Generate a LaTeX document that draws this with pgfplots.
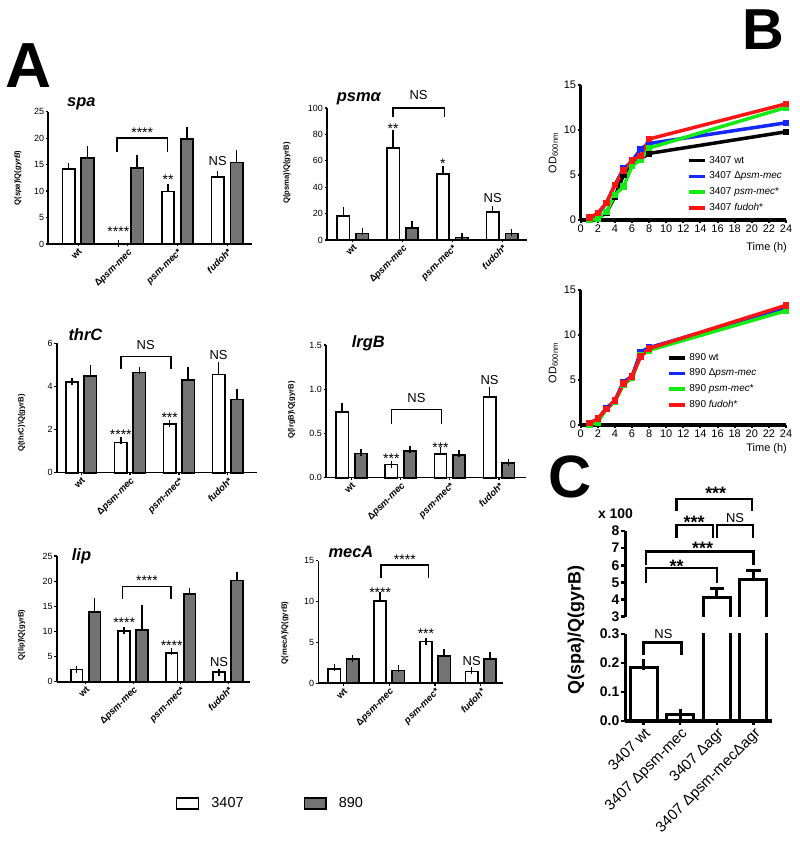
\documentclass[border=0pt]{standalone}
\usepackage{pgfplots}
\pgfplotsset{compat=1.18}
\usepackage{fontspec}
\setmainfont{Liberation Sans}
\newcommand{\fs}[1]{\fontsize{#1}{#1}\selectfont}
\definecolor{barg}{RGB}{115,115,115}
\definecolor{lgreen}{RGB}{20,235,20}
\definecolor{lblue}{RGB}{20,40,255}
\definecolor{lred}{RGB}{255,20,20}
\pgfplotsset{
  Abar/.style={
    scale only axis, anchor=south west, clip=false,
    ybar, bar width=0.25, ymin=0,
    axis x line*=bottom, axis y line*=left,
    axis line style={line width=1.6bp,-},
    tick style={black, line width=1.2bp},
    major tick length=2.5bp, tick align=outside,
    xtick={0,1,2,3},
    xticklabels={\textbf{wt}, \textbf{Δ\textit{psm-mec}}, \textbf{\textit{psm-mec}*}, \textbf{\textit{fudoh}*}},
    xticklabel style={rotate=45, anchor=north east, font=\fs{9.5}, inner sep=1bp},
    yticklabel style={font=\fs{9}, inner sep=1.5bp},
    /pgf/number format/assume math mode=true,
    scaled y ticks=false,
  },
  W/.style={fill=white, draw=black, line width=1.7bp, bar shift=-0.19,
    error bars/y dir=plus, error bars/y explicit,
    error bars/error bar style={line width=1.5bp, black},
    error bars/error mark=-,
    error bars/error mark options={line width=1.5bp, black, mark size=3.5bp}},
  G/.style={fill=barg, draw=black, line width=1.7bp, bar shift=0.19,
    error bars/y dir=plus, error bars/y explicit,
    error bars/error bar style={line width=1.5bp, black},
    error bars/error mark=-,
    error bars/error mark options={line width=1.5bp, black, mark size=3.5bp}},
  Bst/.style={scale only axis, anchor=south west, clip=false,
    width=205.3bp, height=135bp,
    xmin=0, xmax=24, ymin=0, ymax=15,
    xtick={0,2,...,24}, ytick={0,5,10,15},
    axis x line*=bottom, axis y line*=left,
    axis line style={line width=3.5bp,-},
    tick style={black, line width=2bp},
    major tick length=3bp, tick align=outside,
    tick label style={font=\fs{11}, inner sep=1.5bp},
    /pgf/number format/assume math mode=true,
    legend style={draw=none, fill=none, font=\fs{10}, row sep=3.7bp, inner sep=0bp,
      nodes={inner sep=1bp, text height=7.5bp, text depth=2.5bp}, column sep=2bp},
    legend cell align=left,
    legend image code/.code={\draw[#1, line width=3.5bp] (0bp,0bp) -- (16bp,0bp);},
  },
  Cst/.style={scale only axis, anchor=south west, width=146.7bp,
    xmin=-0.51, xmax=3.5,
    axis y line*=left, axis line style={line width=3bp,-},
    tick style={black, line width=2.5bp}, major tick length=4bp, tick align=outside,
    yticklabel style={font=\bfseries\fs{14}, inner sep=1.5bp},
    clip mode=individual, scaled y ticks=false,
    /pgf/number format/assume math mode=true},
  CB/.style={fill=white, draw=black, line width=3bp, bar shift=0,
    error bars/y dir=plus, error bars/y explicit,
    error bars/error bar style={line width=3bp, black},
    error bars/error mark=-,
    error bars/error mark options={line width=3bp, black, mark size=5.5bp}},
  CL/.style={black, line width=3bp, line join=miter, mark=none},
}
\newcommand{\SA}[3]{\node[font=\fs{14}, anchor=base, yshift=-8bp, inner sep=0pt] at (axis cs:#1,#2) {#3};}
\newcommand{\SN}[3]{\node[font=\fs{13}, anchor=base, yshift=-4.6bp, inner sep=0pt] at (axis cs:#1,#2) {#3};}
\newcommand{\BR}[4]{\draw[line width=1.5bp] (axis cs:#1,#4) -- (axis cs:#1,#3) -- (axis cs:#2,#3) -- (axis cs:#2,#4);}
\newcommand{\CA}[3]{\node[font=\bfseries\fs{18}, anchor=base, yshift=-10.4bp, inner sep=0pt] at (axis cs:#1,#2) {#3};}
\newcommand{\CN}[3]{\node[font=\fs{13}, anchor=base, yshift=-4.6bp, inner sep=0pt] at (axis cs:#1,#2) {#3};}
\newcommand{\CBR}[4]{\draw[line width=2.5bp] (axis cs:#1,#4) -- (axis cs:#1,#3) -- (axis cs:#2,#3) -- (axis cs:#2,#4);}
\begin{document}
\begin{tikzpicture}
\path[use as bounding box] (0,0) rectangle (800bp,856bp);

% ---------------- Panel A ----------------
% spa
\begin{axis}[Abar, at={(48.3bp,612bp)}, width=203.7bp, height=132.3bp,
  xmin=-0.6, xmax=3.5, ymax=25, ytick={0,5,...,25}]
\addplot[W] coordinates {(0,14.2)+-(0,0.4) (1,0.1)+-(0,0) (2,9.9)+-(0,0.8) (3,12.6)+-(0,0.6)};
\addplot[G] coordinates {(0,16.2)+-(0,1.7) (1,14.4)+-(0,1.8) (2,19.8)+-(0,1.7) (3,15.4)+-(0,1.7)};
\SA{0.81}{3}{****}
\SA{1.81}{12.8}{**}
\SN{2.81}{15.7}{NS}
\BR{0.78}{1.8}{20}{17.4}
\SA{1.29}{21.6}{****}
\end{axis}

% psm alpha
\begin{axis}[Abar, at={(327bp,616bp)}, width=200bp, height=132bp,
  xmin=-0.52, xmax=3.5, ymax=100, ytick={0,20,...,100}]
\addplot[W] coordinates {(0,18.2)+-(0,4.1) (1,69.9)+-(0,10.6) (2,49.9)+-(0,3.3) (3,21)+-(0,1.8)};
\addplot[G] coordinates {(0,5)+-(0,1.3) (1,8.9)+-(0,2.7) (2,2)+-(0,0.8) (3,5)+-(0,0.8)};
\SA{0.81}{87}{**}
\SA{1.81}{60}{*}
\SN{2.81}{31.6}{NS}
\BR{0.81}{1.84}{100}{93}
\SN{1.32}{110}{NS}
\end{axis}

% thrC
\begin{axis}[Abar, at={(56.7bp,383.3bp)}, width=200bp, height=129.4bp,
  xmin=-0.5, xmax=3.59, ymax=6, ytick={0,2,4,6}]
\addplot[W] coordinates {(0,4.2)+-(0,0.02) (1,1.4)+-(0,0.08) (2,2.27)+-(0,0.02) (3,4.55)+-(0,0.4)};
\addplot[G] coordinates {(0,4.5)+-(0,0.33) (1,4.65)+-(0,0.1) (2,4.3)+-(0,0.42) (3,3.4)+-(0,0.3)};
\SA{0.81}{1.9}{****}
\SA{1.81}{2.7}{***}
\SN{2.81}{5.46}{NS}
\BR{0.81}{1.84}{5.38}{4.81}
\SN{1.32}{5.92}{NS}
\end{axis}

% lrgB
\begin{axis}[Abar, at={(326bp,378.3bp)}, width=200bp, height=132.7bp,
  xmin=-0.52, xmax=3.55, ymax=1.5, ytick={0,0.5,1,1.5},
  yticklabel style={/pgf/number format/.cd, fixed, fixed zerofill, precision=1, /tikz/.cd}]
\addplot[W] coordinates {(0,0.74)+-(0,0.065) (1,0.15)+-(0,0) (2,0.265)+-(0,0.04) (3,0.915)+-(0,0.065)};
\addplot[G] coordinates {(0,0.275)+-(0,0.012) (1,0.305)+-(0,0.012) (2,0.253)+-(0,0.022) (3,0.17)+-(0,0.005)};
\SA{0.81}{0.256}{***}
\SA{1.81}{0.38}{***}
\SN{2.81}{1.10}{NS}
\BR{0.81}{1.83}{0.77}{0.61}
\SN{1.32}{0.90}{NS}
\end{axis}

% lip
\begin{axis}[Abar, at={(56.7bp,174.3bp)}, width=193.3bp, height=125.7bp,
  xmin=-0.61, xmax=3.46, ymax=25, ytick={0,5,...,25},
  legend style={at={(0.617,-0.969)}, anchor=west, draw=none, fill=none,
    font=\fs{14.5}, legend columns=2, inner sep=0bp, nodes={inner sep=0bp},
    column sep=12.3bp, /tikz/every even column/.append style={column sep=60bp}},
  legend image code/.code={\draw[#1, line width=1.3bp] (0bp,-5.5bp) rectangle (21.7bp,5.5bp);}]
\addplot[W] coordinates {(0,2.4)+-(0,0.1) (1,10.1)+-(0,0.1) (2,5.64)+-(0,0.3) (3,1.86)+-(0,0.05)};
\addplot[G] coordinates {(0,13.8)+-(0,2.1) (1,10.3)+-(0,4.3) (2,17.4)+-(0,0.5) (3,20.1)+-(0,1.0)};
\legend{3407, 890}
\SA{0.81}{12.3}{****}
\SA{1.81}{7.76}{****}
\SN{2.81}{3.98}{NS}
\BR{0.78}{1.8}{18.9}{16.4}
\SA{1.29}{20.7}{****}
\end{axis}

% mecA
\begin{axis}[Abar, at={(318.3bp,172.7bp)}, width=185bp, height=122.6bp,
  xmin=-0.55, xmax=3.49, ymax=15, ytick={0,5,10,15}, bar width=0.27]
\addplot[W, bar shift=-0.2] coordinates {(0,1.71)+-(0,0.2) (1,10.1)+-(0,0.6) (2,5.1)+-(0,0.03) (3,1.43)+-(0,0.08)};
\addplot[G, bar shift=0.2] coordinates {(0,2.98)+-(0,0.08) (1,1.55)+-(0,0.2) (2,3.34)+-(0,0.4) (3,2.98)+-(0,0.36)};
\SA{0.8}{11.5}{****}
\SA{1.8}{6.44}{***}
\SN{2.8}{2.77}{NS}
\BR{0.82}{1.86}{14.47}{12.9}
\SA{1.34}{15.5}{****}
\end{axis}

% ---------------- Panel B ----------------
\begin{axis}[Bst, at={(580.7bp,636bp)}, legend style={at={(0.516,0.485)}, anchor=north west}]
\addplot[black, line width=3.5bp, mark=square*, mark size=1.5bp] coordinates {(1,0) (2,0.2) (3,0.8) (4,2.6) (5,5.0) (6,6.4) (7,6.8) (8,7.4) (24,9.8)};
\addplot[lblue, line width=3.5bp, mark=square*, mark size=1.5bp] coordinates {(1,0.25) (2,0.6) (3,1.9) (4,3.9) (5,5.7) (6,6.5) (7,7.9) (8,8.5) (24,10.8)};
\addplot[lgreen, line width=3.5bp, mark=square*, mark size=1.5bp] coordinates {(1,0) (2,0.1) (3,0.9) (4,2.8) (5,3.7) (6,6.0) (7,6.7) (8,8.0) (24,12.5)};
\addplot[lred, line width=3.5bp, mark=square*, mark size=1.5bp] coordinates {(1,0.25) (2,0.75) (3,1.9) (4,3.9) (5,5.5) (6,6.6) (7,7.1) (8,9.0) (24,12.9)};
\legend{3407 wt, 3407 Δ\textit{psm-mec}, 3407 \textit{psm-mec}*, 3407 \textit{fudoh}*}
\end{axis}

\begin{axis}[Bst, at={(580.7bp,431bp)}, legend style={at={(0.419,0.544)}, anchor=north west}]
\addplot[black, line width=3.5bp, mark=square*, mark size=1.5bp] coordinates {(1,0.1) (2,0.5) (3,1.8) (4,2.7) (5,4.6) (6,5.3) (7,7.8) (8,8.5) (24,13.1)};
\addplot[lblue, line width=3.5bp, mark=square*, mark size=1.5bp] coordinates {(1,0.2) (2,0.6) (3,1.9) (4,2.7) (5,4.8) (6,5.4) (7,8.1) (8,8.6) (24,13.0)};
\addplot[lgreen, line width=3.5bp, mark=square*, mark size=1.5bp] coordinates {(1,0) (2,0.3) (3,1.8) (4,2.6) (5,4.5) (6,5.2) (7,7.7) (8,8.3) (24,12.7)};
\addplot[lred, line width=3.5bp, mark=square*, mark size=1.5bp] coordinates {(1,0.2) (2,0.7) (3,1.8) (4,2.7) (5,4.6) (6,5.4) (7,7.6) (8,8.5) (24,13.3)};
\legend{890 wt, 890 Δ\textit{psm-mec}, 890 \textit{psm-mec}*, 890 \textit{fudoh}*}
\end{axis}

% ---------------- Panel C ----------------
% upper part of the broken axis (values in the 3-8 range)
\begin{axis}[Cst, at={(625bp,239.3bp)}, height=85.7bp, ymin=3, ymax=8,
  ytick={3,4,5,6,7,8}, axis x line=none]
% Delta agr bar: 4.11 +- 0.55 ; Delta psm-mec Delta agr bar: 5.15 +- 0.52
\addplot[CL] coordinates {(1.63,3) (1.63,4.11) (2.37,4.11) (2.37,3)};
\addplot[CL] coordinates {(2,4.11) (2,4.66)};
\addplot[CL] coordinates {(1.8,4.66) (2.2,4.66)};
\addplot[CL] coordinates {(2.63,3) (2.63,5.15) (3.37,5.15) (3.37,3)};
\addplot[CL] coordinates {(3,5.15) (3,5.67)};
\addplot[CL] coordinates {(2.8,5.67) (3.2,5.67)};
\CBR{0.06}{2.0}{5.83}{4.95}
\CA{0.9}{6.2}{**}
\CBR{0.06}{3.0}{6.8}{6.0}
\CA{1.61}{7.25}{***}
\CBR{0.9}{2.96}{9.87}{9.14}
\CA{1.97}{10.47}{***}
\CBR{0.9}{1.89}{8.36}{7.58}
\CA{1.38}{8.75}{***}
\CBR{2.0}{2.99}{8.36}{7.58}
\CN{2.5}{8.77}{NS}
\end{axis}

% lower part (0-0.3)
\begin{axis}[Cst, ybar, bar width=0.74, at={(625bp,135bp)}, height=87bp, ymin=0, ymax=0.3,
  ytick={0,0.1,0.2,0.3},
  yticklabel style={/pgf/number format/.cd, fixed, fixed zerofill, precision=1, /tikz/.cd},
  axis x line*=bottom, xtick={0,1,2,3},
  xticklabels={3407 wt, 3407 Δpsm-mec, 3407 Δagr, 3407 Δpsm-mecΔagr},
  xticklabel style={rotate=45, anchor=north east, font=\fs{15}, inner sep=1bp}]
\addplot[CB] coordinates {(0,0.184)+-(0,0.011) (1,0.024)+-(0,0) (2,4.11)+-(0,0.55) (3,5.15)+-(0,0.52)};
\CBR{0}{1.04}{0.27}{0.228}
\CN{0.54}{0.302}{NS}
\end{axis}

% ---------------- labels ----------------
\node[font=\bfseries\fs{64}, anchor=base west, inner sep=0pt] at (5bp,768bp) {A};
\node[font=\bfseries\fs{58}, anchor=base west, inner sep=0pt] at (742bp,806bp) {B};
\node[font=\bfseries\fs{60}, anchor=base east, inner sep=0pt] at (592bp,358bp) {C};

\node[font=\bfseries\itshape\fs{16.5}, anchor=base west, inner sep=0pt] at (67bp,749.3bp) {spa};
\node[font=\bfseries\itshape\fs{16.5}, anchor=base west, inner sep=0pt] at (336.7bp,754.3bp) {psmα};
\node[font=\bfseries\itshape\fs{16.5}, anchor=base west, inner sep=0pt] at (68.3bp,515.3bp) {thrC};
\node[font=\bfseries\itshape\fs{16.5}, anchor=base west, inner sep=0pt] at (351.7bp,508.3bp) {lrgB};
\node[font=\bfseries\itshape\fs{16.5}, anchor=base west, inner sep=0pt] at (71.7bp,295.3bp) {lip};
\node[font=\bfseries\itshape\fs{16.5}, anchor=base west, inner sep=0pt] at (328.3bp,298.7bp) {mecA};

\node[font=\bfseries\fs{7.7}, rotate=90] at (18bp,678bp) {Q(\textit{spa})\textbackslash Q(\textit{gyrB})};
\node[font=\bfseries\fs{7.7}, rotate=90] at (287bp,683bp) {Q(psma)\textbackslash Q(gyrB)};
\node[font=\bfseries\fs{7.7}, rotate=90] at (21.7bp,433bp) {Q(thrC)\textbackslash Q(gyrB)};
\node[font=\bfseries\fs{7.7}, rotate=90] at (291.7bp,446bp) {Q(lrgB)\textbackslash Q(gyrB)};
\node[font=\bfseries\fs{7.7}, rotate=90] at (21.7bp,221bp) {Q(lip)\textbackslash Q(gyrB)};
\node[font=\bfseries\fs{7.7}, rotate=90] at (285bp,223bp) {Q(mecA)\textbackslash Q(gyrB)};

\node[font=\fs{11}, rotate=90] at (553.3bp,703bp) {OD\textsubscript{600nm}};
\node[font=\fs{11}, rotate=90] at (553.3bp,493bp) {OD\textsubscript{600nm}};
\node[font=\fs{11}, anchor=east, inner sep=0pt] at (787bp,608bp) {Time (h)};
\node[font=\fs{11}, anchor=east, inner sep=0pt] at (787bp,407bp) {Time (h)};

\node[font=\bfseries\fs{14}] at (615.5bp,342bp) {x 100};
\node[font=\bfseries\fs{18}, rotate=90] at (576bp,226bp) {Q(spa)/Q(gyrB)};
\end{tikzpicture}
\end{document}
